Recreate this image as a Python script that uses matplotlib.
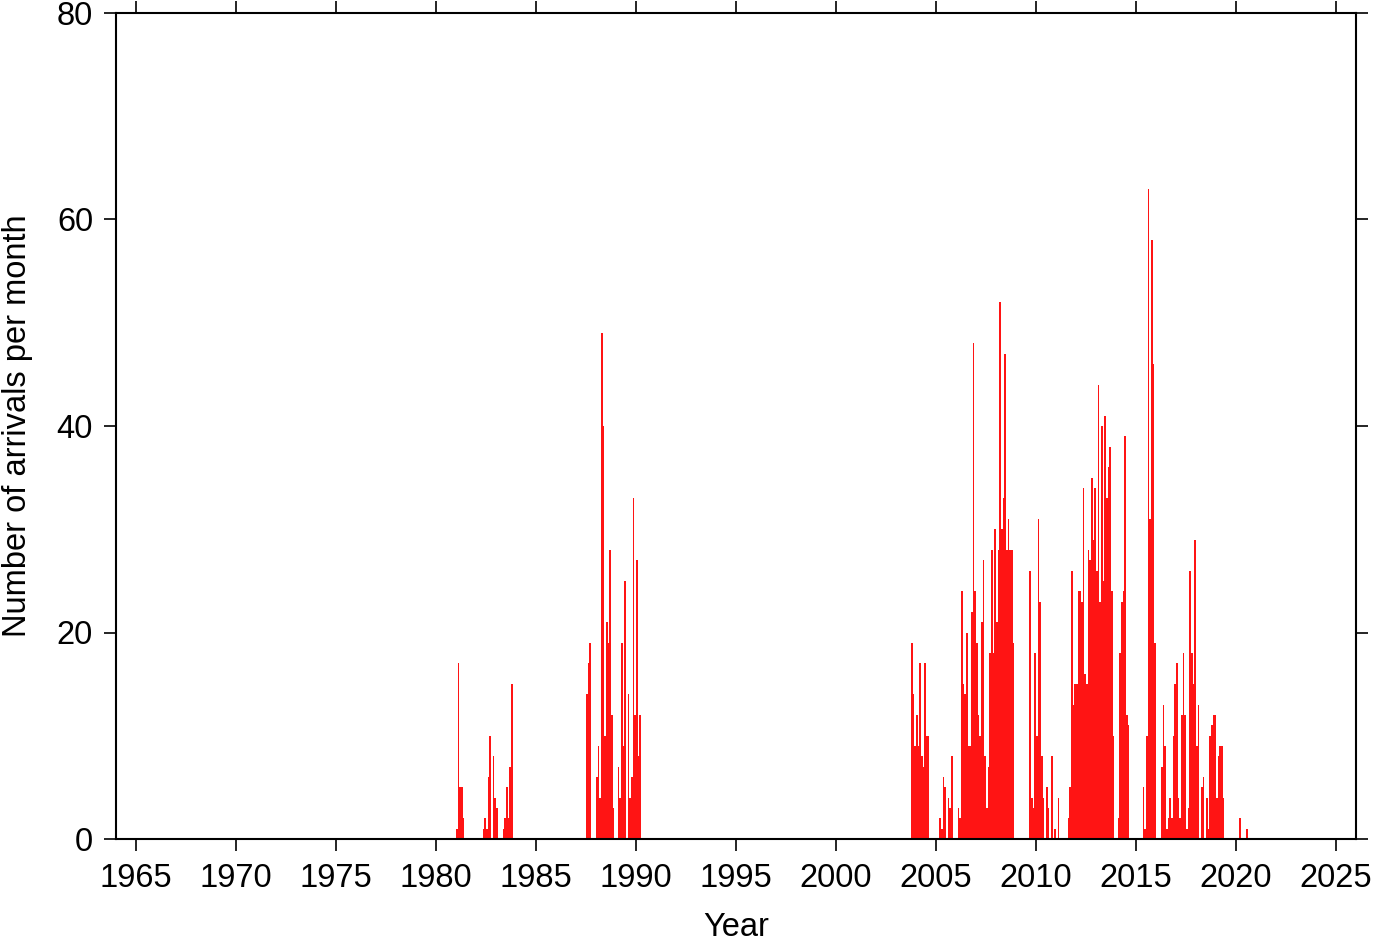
import numpy as np
import matplotlib
matplotlib.use('Agg')
import matplotlib.pyplot as plt

plt.rcParams['font.family'] = ['Liberation Sans', 'DejaVu Sans']

# monthly arrival counts, each segment = (start year, start month, counts)
seg_1981 = (1981, 1, [1, 17, 5, 5, 2])
seg_1982 = (1982, 5, [1, 2, 1, 6, 10, 0, 8, 4, 3])
seg_1983 = (1983, 5, [1, 2, 5, 2, 7, 15])
seg_1987 = (1987, 7, [14, 17, 19, 0, 0, 0, 6, 9, 4, 49, 40, 10, 21, 19, 28, 12, 3, 0,
                      0, 7, 4, 19, 9, 25, 0, 14, 4, 6, 33, 12, 27, 8, 12])
seg_2003 = (2003, 10, [19, 14, 9, 12, 9, 17, 8, 7, 17, 10, 10, 0, 0, 0, 0, 0, 0,
                       2, 1, 6, 5, 0, 4, 3, 8, 0, 0, 0,
                       3, 2, 24, 15, 14, 20, 9, 9, 22, 48, 24, 19, 12, 10, 21, 27, 8, 3,
                       7, 18, 28, 18, 30, 21, 28, 52, 30, 33, 47, 28, 31, 28, 28, 19])
seg_2009 = (2009, 9, [26, 4, 3, 18, 10, 31, 23, 8, 4, 0, 5, 3, 0, 8, 0, 1, 0, 4,
                      0, 0, 0, 0, 0, 2, 5, 26, 13, 15, 15, 24, 24, 23, 34, 16, 15,
                      28, 27, 35, 29, 34, 26, 44, 23, 40, 25, 41, 33, 36, 38, 24, 10,
                      0, 0, 2, 18, 23, 24, 39, 12, 11])
seg_2015 = (2015, 5, [5, 1, 10, 63, 31, 58, 46, 19, 0, 0, 0,
                      7, 13, 9, 1, 2, 4, 2, 10, 15, 17, 4, 2, 12, 18, 12, 1, 3, 26, 18,
                      15, 29, 9, 13, 0, 5, 6, 0, 4, 1, 10, 11, 12, 12, 4, 8, 9, 9, 4])
seg_2020a = (2020, 3, [2])
seg_2020b = (2020, 7, [1])

segments = [seg_1981, seg_1982, seg_1983, seg_1987, seg_2003, seg_2009,
            seg_2015, seg_2020a, seg_2020b]

xs, ys = [], []
for year, month, counts in segments:
    for i, c in enumerate(counts):
        xs.append(year + (month - 1 + i) / 12.0)
        ys.append(c)
xs = np.array(xs)
ys = np.array(ys)

fig = plt.figure(figsize=(13.82, 9.42), dpi=100)
ax = fig.add_axes([116 / 1382, 1 - 839 / 942, (1356 - 116) / 1382, (839 - 13) / 942])

ax.bar(xs, ys, width=0.92 / 12, align='edge', color='#ff1414', linewidth=0)

ax.set_xlim(1964, 2026)
ax.set_ylim(0, 80)
ax.set_xticks(np.arange(1965, 2026, 5))
ax.set_yticks([0, 20, 40, 60, 80])

for s in ax.spines.values():
    s.set_linewidth(1.5)
ax.tick_params(axis='both', direction='out', length=8.5, width=1.2,
               labelsize=23.5, top=True, right=True)
ax.tick_params(axis='x', pad=9)
ax.tick_params(axis='y', pad=8)

ax.set_xlabel('Year', fontsize=23.5, labelpad=13)
ax.set_ylabel('Number of arrivals per month', fontsize=23.5, labelpad=17)

fig.savefig('out.png', dpi=100)
